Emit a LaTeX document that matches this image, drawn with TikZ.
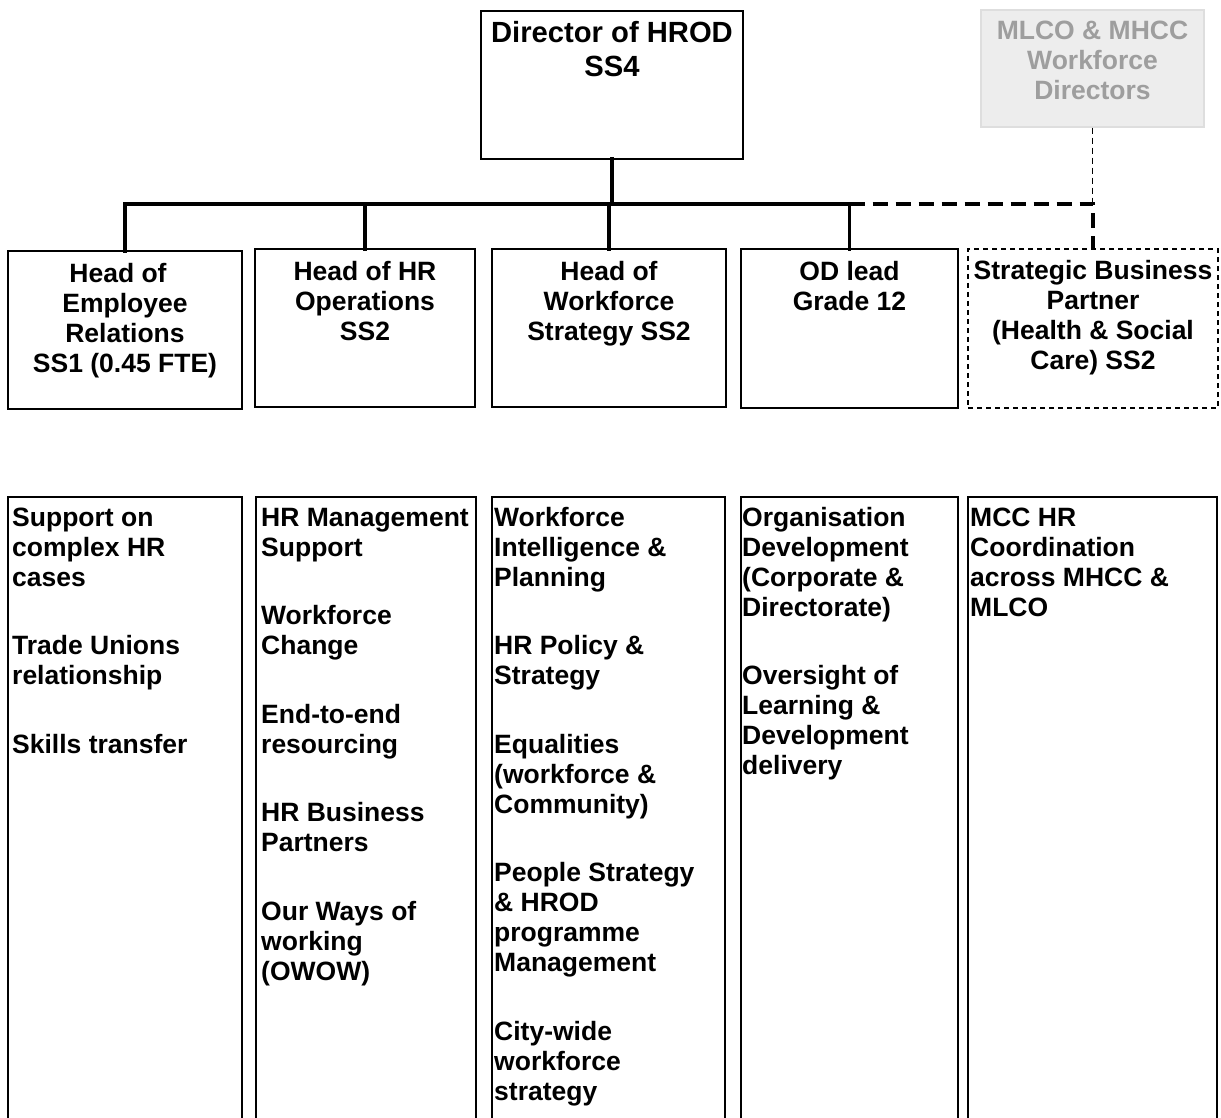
\documentclass[tikz,border=0pt]{standalone}
\usepackage{fontspec}
\setmainfont{Liberation Sans}
\begin{document}
\begin{tikzpicture}[x=1pt,y=-1pt,
  box/.style={draw=black, line width=1.3pt, rectangle, inner sep=0pt, outer sep=0pt},
  dbox/.style={box, dash pattern=on 5pt off 4pt, line width=1.4pt},
  gbox/.style={rectangle, draw=black!13, fill=black!7, line width=1.3pt, inner sep=0pt},
  txt/.style={font=\bfseries\fontsize{26.5}{30}\selectfont, inner sep=0pt, anchor=north},
  ctxt/.style={txt, align=center},
  ltxt/.style={txt, align=left, anchor=north west},
  conn/.style={line width=3.8pt, line cap=rect},
  dconn/.style={line width=3.8pt, dash pattern=on 15pt off 8pt},
  tconn/.style={line width=1.4pt, dash pattern=on 6pt off 4pt}]
\useasboundingbox (0,0) rectangle (1221,1118);
\clip (0,0) rectangle (1221,1118);

% top boxes
\node[box, minimum width=262pt, minimum height=148pt] (dir) at (612,85) {};
\node[gbox, minimum width=223pt, minimum height=117pt] (mlco) at (1092.5,68.5) {};
\node[box, minimum width=234pt, minimum height=158pt] (er) at (125,330) {};
\node[box, minimum width=220pt, minimum height=158pt] (hro) at (365,328) {};
\node[box, minimum width=234pt, minimum height=158pt] (wfs) at (609,328) {};
\node[box, minimum width=217pt, minimum height=159pt] (od) at (849.5,328.5) {};
\node[dbox, minimum width=250pt, minimum height=159pt] (sbp) at (1093,328.5) {};

% texts of top boxes (node top = first baseline - 21)
\node[ctxt, font=\bfseries\fontsize{29.2}{34}\selectfont] (tdir) at (612,19) {\strut Director of HROD\\SS4};
\node[ctxt, text=black!38] (tmlco) at (1092.5,18.5) {\strut MLCO \& MHCC\\Workforce\\Directors};
\node[ctxt] (ter) at (125,261) {\strut Head of\hspace*{14pt}\\Employee\\Relations\\SS1 (0.45 FTE)};
\node[ctxt] (thro) at (365,259) {\strut Head of HR\\Operations\\SS2};
\node[ctxt] (twfs) at (609,259) {\strut Head of\\Workforce\\Strategy SS2};
\node[ctxt] (tod) at (849.5,259) {\strut OD lead\\Grade 12};
\node[ctxt] (tsbp) at (1093,258) {\strut Strategic Business\\Partner\\(Health \& Social\\Care) SS2};

% connectors
\coordinate (bar) at (0,204);
\draw[conn] (dir.south) -- (dir.south |- bar);
\draw[conn] (er.north) |- (od.north |- bar) -- (od.north);
\draw[conn] (hro.north) -- (hro.north |- bar);
\draw[conn] (wfs.north) -- (wfs.north |- bar);
\draw[dconn] (od.north |- bar) -| (sbp.north);
\draw[tconn] (mlco.south) -- (mlco.south |- bar);

% bottom boxes
\node[box, minimum width=234pt, minimum height=700pt, anchor=north west] (b1) at (8,497) {};
\node[box, minimum width=220pt, minimum height=700pt, anchor=north west] (b2) at (256,497) {};
\node[box, minimum width=233pt, minimum height=700pt, anchor=north west] (b3) at (492,497) {};
\node[box, minimum width=217pt, minimum height=700pt, anchor=north west] (b4) at (741,497) {};
\node[box, minimum width=249pt, minimum height=700pt, anchor=north west] (b5) at (968,497) {};

\node[ltxt] (t1) at (12,505) {\strut Support on\\complex HR\\cases\\[38.5pt]Trade Unions\\relationship\\[38.5pt]Skills transfer};
\node[ltxt] (t2) at (261,505) {\strut HR Management\\Support\\[38.5pt]Workforce\\Change\\[38.5pt]End-to-end\\resourcing\\[38.5pt]HR Business\\Partners\\[38.5pt]Our Ways of\\working\\(OWOW)};
\node[ltxt] (t3) at (494,505) {\strut Workforce\\Intelligence \&\\Planning\\[38.5pt]HR Policy \&\\Strategy\\[38.5pt]Equalities\\(workforce \&\\Community)\\[38.5pt]People Strategy\\\& HROD\\programme\\Management\\[38.5pt]City-wide\\workforce\\strategy};
\node[ltxt] (t4) at (742,505) {\strut Organisation\\Development\\(Corporate \&\\Directorate)\\[38.5pt]Oversight of\\Learning \&\\Development\\delivery};
\node[ltxt] (t5) at (970,505) {\strut MCC HR\\Coordination\\across MHCC \&\\MLCO};
\end{tikzpicture}
\end{document}
